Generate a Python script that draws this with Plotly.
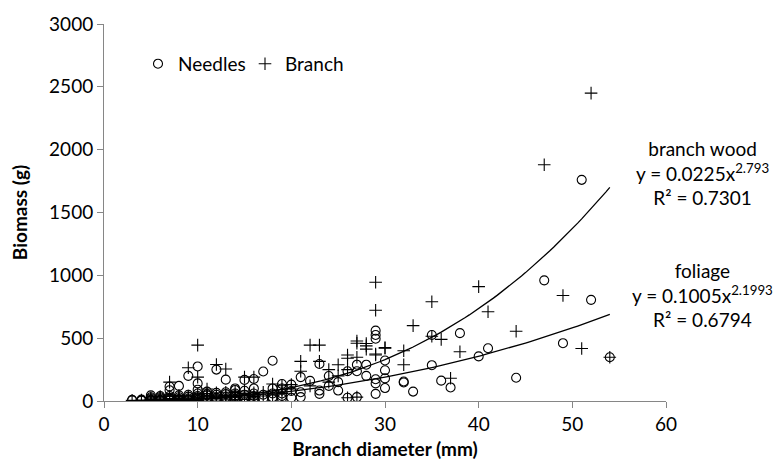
import plotly.graph_objects as go
import numpy as np

# Needles (foliage) biomass: branch diameter (mm) and biomass (g), one line per diameter
needles_x = [3, 3,
             4, 4, 4,
             5, 5, 5, 5, 5, 5,
             6, 6, 6, 6, 6, 6,
             7, 7, 7, 7, 7, 7, 7,
             8, 8, 8, 8, 8, 8,
             9, 9, 9, 9, 9, 9,
             10, 10, 10, 10, 10, 10, 10, 10, 10,
             11, 11, 11, 11, 11, 11,
             12, 12, 12, 12, 12, 12,
             13, 13, 13, 13, 13, 13,
             14, 14, 14, 14, 14, 14, 14,
             15, 15, 15, 15, 15, 15,
             16, 16, 16, 16, 16, 16,
             17, 17, 17,
             18, 18, 18, 18, 18,
             19, 19, 19, 19, 19,
             20, 20, 20,
             21, 21, 21,
             22,
             23, 23, 23,
             24, 24,
             25, 25,
             26, 26,
             27, 27, 27,
             28, 28,
             29, 29, 29, 29, 29, 29,
             30, 30, 30, 30,
             32, 32, 33, 35, 35, 36, 37, 38, 40, 41, 44, 47, 49, 51, 52, 54]
needles_y = [5, 10,
             3, 8, 12,
             3, 5, 10, 20, 30, 45,
             3, 5, 10, 20, 30, 40,
             3, 8, 15, 25, 40, 85, 115,
             3, 8, 15, 30, 45, 120,
             5, 10, 20, 35, 50, 200,
             5, 10, 20, 30, 40, 60, 90, 140, 275,
             5, 12, 25, 45, 55, 75,
             5, 15, 25, 50, 65, 250,
             8, 15, 30, 55, 70, 170,
             8, 18, 35, 45, 60, 88, 100,
             8, 15, 30, 50, 82, 168,
             10, 20, 40, 60, 100, 175,
             20, 50, 235,
             15, 30, 60, 100, 320,
             20, 40, 60, 100, 135,
             26, 80, 130,
             31, 70, 190,
             160,
             57, 83, 294,
             120, 199,
             83, 150,
             26, 237,
             31, 237, 289,
             200, 289,
             57, 140, 173, 495, 525, 560,
             103, 180, 245, 322,
             147, 155, 75, 285, 525, 162, 108, 540, 355, 420, 185, 960, 460, 1760, 805, 348]

# Branch wood biomass: branch diameter (mm) and biomass (g), one line per diameter
branch_x = [3,
            4, 4,
            5, 5, 5, 5, 5,
            6, 6, 6, 6, 6,
            7, 7, 7, 7, 7,
            8, 8, 8, 8, 8,
            9, 9, 9, 9, 9,
            10, 10, 10, 10, 10, 10,
            11, 11, 11, 11, 11,
            12, 12, 12, 12, 12,
            13, 13, 13, 13, 13,
            14, 14, 14, 14, 14,
            15, 15, 15, 15, 15,
            16, 16, 16, 16,
            17, 17,
            18, 18, 18,
            19, 19, 19,
            20, 20,
            21, 21,
            22, 22,
            23, 23,
            24, 24,
            25, 25,
            26, 26, 26, 26,
            27, 27, 27, 27,
            28, 28, 28,
            29, 29, 29, 29,
            30, 30,
            32, 32, 33, 35, 35, 36, 37, 38, 40, 41, 44, 47, 49, 51, 52, 54]
branch_y = [5,
            3, 8,
            3, 5, 10, 15, 25,
            3, 8, 15, 25, 35,
            5, 10, 20, 40, 150,
            5, 12, 20, 30, 45,
            5, 15, 25, 40, 265,
            5, 15, 30, 55, 190, 445,
            8, 20, 40, 60, 95,
            8, 20, 40, 65, 290,
            10, 25, 45, 70, 255,
            10, 30, 40, 50, 70,
            12, 30, 60, 80, 190,
            15, 35, 65, 190,
            40, 70,
            50, 80, 135,
            60, 90, 121,
            95, 130,
            237, 315,
            120, 445,
            315, 445,
            150, 250,
            200, 289,
            26, 250, 340, 366,
            31, 348, 460, 477,
            413, 439, 457,
            366, 374, 722, 945,
            420, 425,
            289, 400, 600, 515, 790, 490, 181, 392, 910, 710, 555, 1880, 840, 418, 2450, 348]

assert len(needles_x) == len(needles_y)
assert len(branch_x) == len(branch_y)

# Power-law trendlines as drawn in the picture: exponent from the equations,
# curve height read at the right end of each line (x = 54 mm)
branch_b, branch_end = 2.793, 1700
foliage_b, foliage_end = 2.1993, 689
fit_x0, fit_x1 = 3, 54
fit_x = np.linspace(fit_x0, fit_x1, 120)
branch_fit = branch_end * (fit_x / fit_x1) ** branch_b
foliage_fit = foliage_end * (fit_x / fit_x1) ** foliage_b

FONT = "Lato"

fig = go.Figure()
fig.add_trace(go.Scatter(
    x=needles_x, y=needles_y, mode="markers", name="Needles",
    marker=dict(symbol="circle-open", size=9, color="black", line=dict(width=1.1, color="black")),
))
fig.add_trace(go.Scatter(
    x=branch_x, y=branch_y, mode="markers", name="Branch",
    marker=dict(symbol="cross-thin", size=9, color="black", line=dict(width=1.1, color="black")),
))
fig.add_trace(go.Scatter(
    x=fit_x, y=branch_fit, mode="lines", showlegend=False,
    line=dict(color="black", width=1.3), hoverinfo="skip",
))
fig.add_trace(go.Scatter(
    x=fit_x, y=foliage_fit, mode="lines", showlegend=False,
    line=dict(color="black", width=1.3), hoverinfo="skip",
))

L, R, T, B = 104, 109, 13, 68
W, H = 775, 469
pw, ph = W - L - R, H - T - B

def px(xp):
    return (xp - L) / pw

def py(yp):
    return (H - B - yp) / ph

fig.add_annotation(
    x=px(702), y=py(166), xref="paper", yref="paper", showarrow=False,
    xanchor="center", yanchor="middle",
    text="branch wood<br>y = 0.0225x<sup>2.793</sup><br>R² = 0.7301",
    font=dict(family=FONT, size=19, color="black"), align="center",
)
fig.add_annotation(
    x=px(702), y=py(292), xref="paper", yref="paper", showarrow=False,
    xanchor="center", yanchor="middle",
    text="foliage<br>y = 0.1005x<sup>2.1993</sup><br>R² = 0.6794",
    font=dict(family=FONT, size=19, color="black"), align="center",
)

fig.update_layout(
    width=W, height=H,
    margin=dict(l=L, r=R, t=T, b=B),
    paper_bgcolor="white", plot_bgcolor="white",
    font=dict(family=FONT, size=19, color="black"),
    showlegend=True,
    legend=dict(orientation="h", x=px(138), y=py(54), xanchor="left", yanchor="middle",
                bgcolor="rgba(0,0,0,0)", font=dict(family=FONT, size=19),
                itemwidth=30, entrywidth=62, tracegroupgap=0),
    xaxis=dict(range=[0, 60], dtick=10, tick0=0, showgrid=False, zeroline=False,
               showline=True, linecolor="#868686", linewidth=1,
               ticks="outside", ticklen=6, tickcolor="#868686",
               title=dict(text="<b>Branch diameter (mm)</b>", standoff=8,
                          font=dict(family=FONT, size=19))),
    yaxis=dict(range=[0, 3000], dtick=500, tick0=0, showgrid=False, zeroline=False,
               showline=True, linecolor="#868686", linewidth=1,
               ticks="outside", ticklen=6, tickcolor="#868686",
               title=dict(text="<b>Biomass (g)</b>", standoff=16,
                          font=dict(family=FONT, size=19))),
)

fig.write_html("out.html")
